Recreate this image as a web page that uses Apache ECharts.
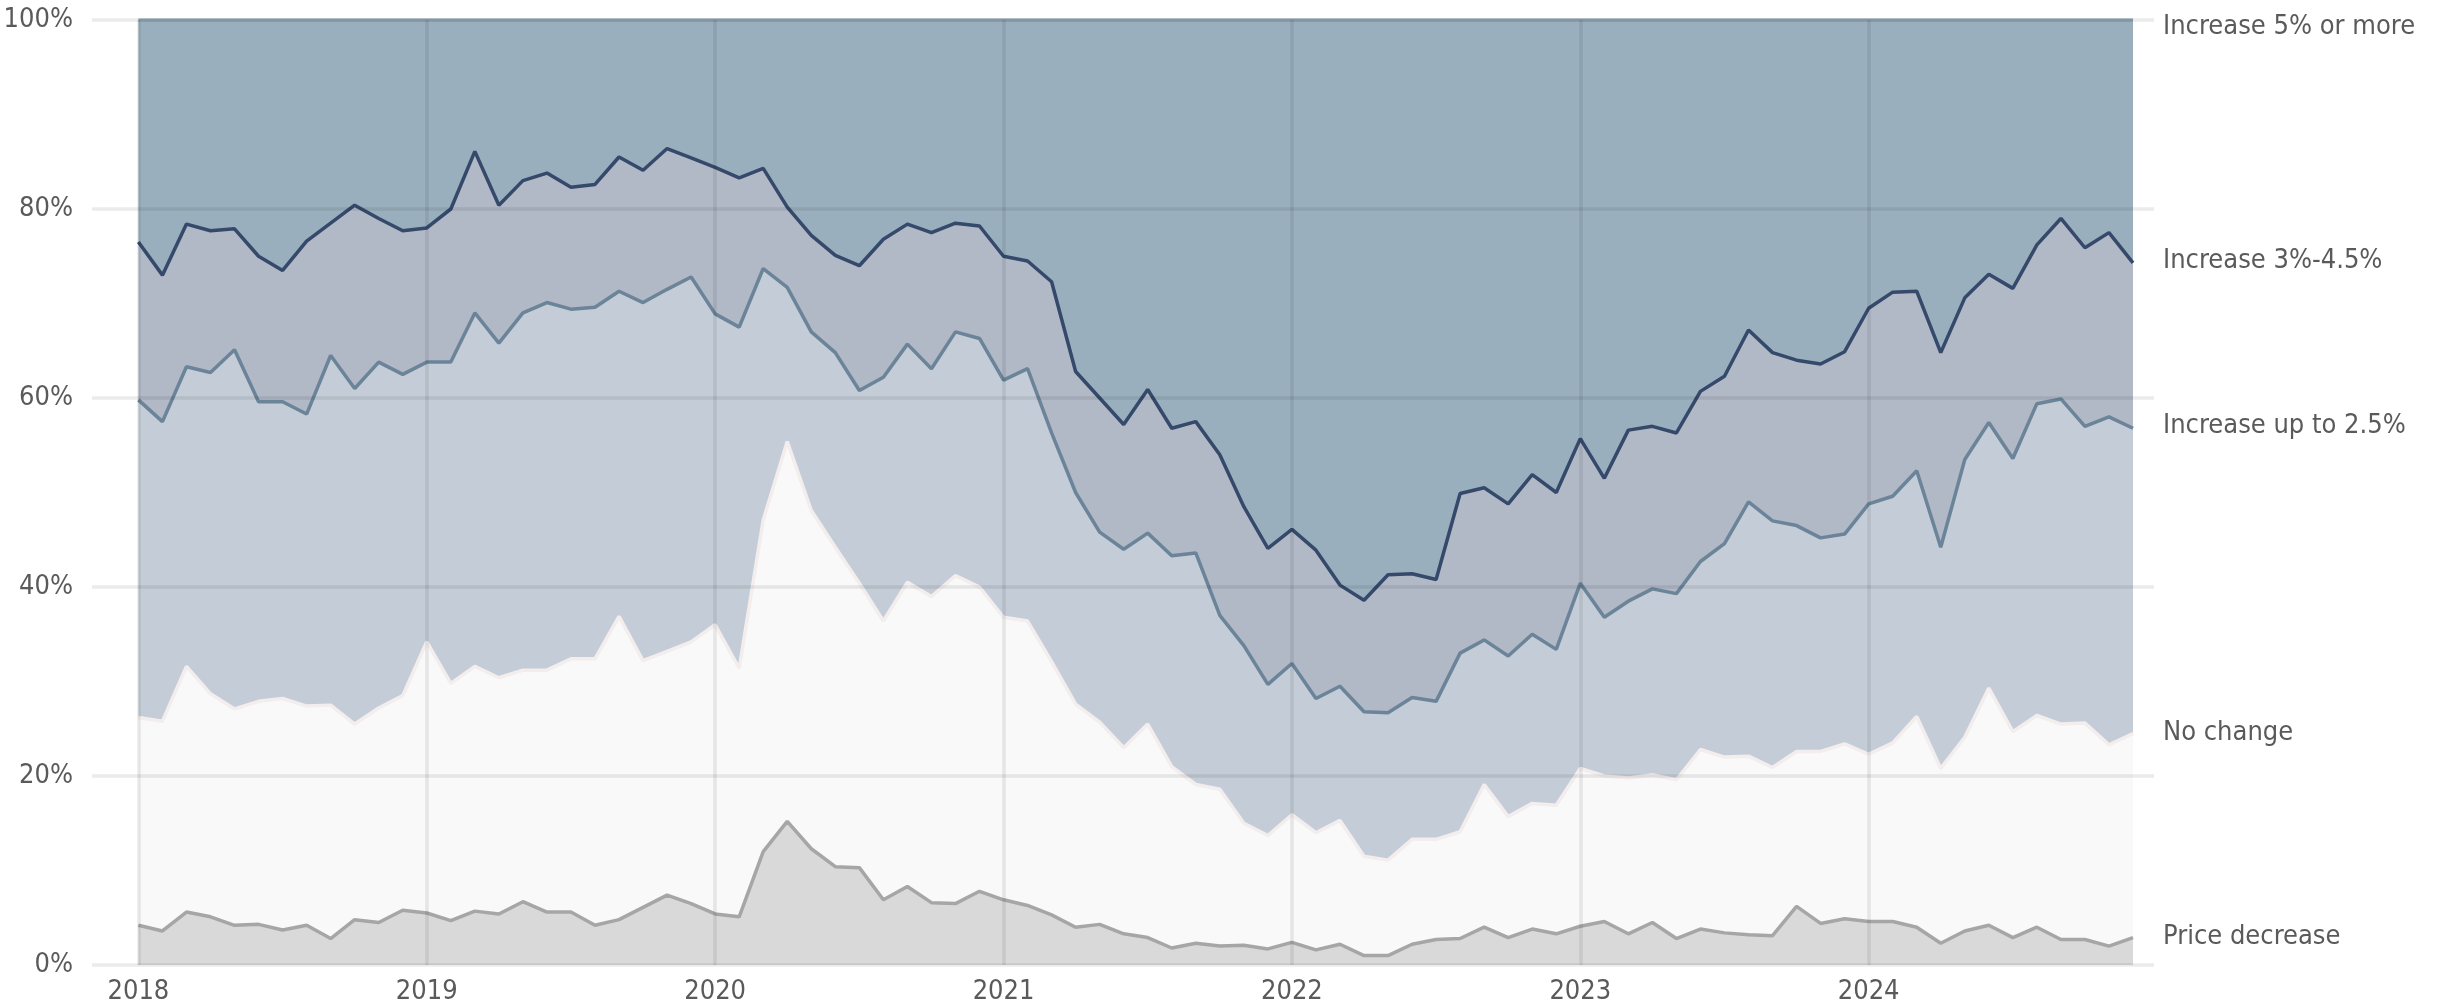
<!DOCTYPE html>
<html>
<head>
<meta charset="utf-8">
<style>
  html, body { margin: 0; padding: 0; background: #ffffff; }
  #chart { width: 2455px; height: 1006px; }
</style>
<script src="https://cdn.jsdelivr.net/npm/echarts@6/dist/echarts.min.js"></script>
</head>
<body>
<div id="chart"></div>
<script>
// ---- data (monthly shares, %, Jan 2018 – Dec 2024) ----
const years = ['2018', '2019', '2020', '2021', '2022', '2023', '2024'];
const yTicks = [0, 20, 40, 60, 80, 100];
const seriesNames = ['Price decrease', 'No change', 'Increase up to 2.5%', 'Increase 3%-4.5%', 'Increase 5% or more'];

const priceDecrease = [
  4.2,3.6,5.6,5.1,4.2,4.3,3.7,4.2,2.8,4.8,4.5,5.8,
  5.5,4.7,5.7,5.4,6.7,5.6,5.6,4.2,4.8,6.1,7.4,6.5,
  5.4,5.1,12.0,15.2,12.3,10.4,10.3,6.9,8.3,6.6,6.5,7.8,
  6.9,6.3,5.3,4.0,4.3,3.3,2.9,1.8,2.3,2.0,2.1,1.7,
  2.4,1.6,2.2,1.0,1.0,2.2,2.7,2.8,4.0,2.9,3.8,3.3,
  4.1,4.6,3.3,4.5,2.8,3.8,3.4,3.2,3.1,6.2,4.4,4.9,
  4.6,4.6,4.0,2.3,3.6,4.2,2.9,4.0,2.7,2.7,2.0,2.9
];
const noChange = [
  22.0,22.2,26.0,23.6,22.9,23.6,24.5,23.2,24.7,20.7,22.7,22.7,
  28.7,25.1,25.9,25.0,24.5,25.6,26.8,28.2,32.1,26.1,25.8,27.7,
  30.6,26.3,35.1,40.2,35.8,33.8,30.1,29.5,32.2,32.4,34.7,32.2,
  29.9,30.1,26.8,23.6,21.4,19.7,22.6,19.2,16.8,16.6,12.9,12.0,
  13.5,12.4,13.1,10.5,10.1,11.1,10.6,11.3,15.1,12.8,13.3,13.6,
  16.7,15.4,16.5,15.6,16.8,19.0,18.6,18.9,17.8,16.4,18.2,18.5,
  17.7,18.9,22.3,18.5,20.5,25.1,21.8,22.4,22.8,22.9,21.3,21.6
];
const increaseUpTo25 = [
  33.6,31.7,31.7,34.0,38.0,31.7,31.4,30.9,37.0,35.5,36.6,34.0,
  29.6,34.0,37.4,35.4,37.8,38.9,37.0,37.2,34.4,37.9,38.3,38.6,
  32.9,36.1,26.6,16.3,18.9,20.6,20.4,25.8,25.2,24.1,25.8,26.3,
  25.1,26.7,24.2,22.4,20.1,21.0,20.2,22.3,24.5,18.4,18.8,16.0,
  16.0,14.2,14.2,15.3,15.6,15.0,14.6,18.9,15.3,17.0,17.9,16.5,
  19.6,16.8,18.7,19.7,19.7,19.9,22.6,26.9,26.1,23.9,22.6,22.2,
  26.5,26.1,26.0,23.4,29.4,28.1,28.9,33.0,34.4,31.4,34.7,32.3
];
const increase3to45 = [
  16.7,15.5,15.1,15.0,12.8,15.4,13.9,18.3,14.0,19.4,15.2,15.2,
  14.2,16.2,17.1,14.6,14.0,13.7,12.9,13.0,14.2,14.0,14.9,12.6,
  15.5,15.8,10.6,8.5,10.2,10.3,13.2,14.6,12.7,14.4,11.5,11.9,
  13.1,11.4,16.0,12.8,14.2,13.2,15.2,13.5,13.9,17.0,14.7,14.4,
  14.2,15.7,10.7,11.8,14.6,13.1,12.9,16.9,16.1,16.1,16.9,16.6,
  15.3,14.7,18.1,17.2,17.0,18.0,17.7,18.2,17.8,17.5,18.4,19.3,
  20.7,21.6,19.0,20.6,17.1,15.7,18.0,16.8,19.1,18.9,19.5,17.5
];
const increase5plus = [
  23.5,27.0,21.6,22.3,22.1,25.0,26.5,23.4,21.5,19.6,21.0,22.3,
  22.0,20.0,13.9,19.6,17.0,16.2,17.7,17.4,14.5,15.9,13.6,14.6,
  15.6,16.7,15.7,19.8,22.8,24.9,26.0,23.2,21.6,22.5,21.5,21.8,
  25.0,25.5,27.7,37.2,40.0,42.8,39.1,43.2,42.5,46.0,51.5,55.9,
  53.9,56.1,59.8,61.4,58.7,58.6,59.2,50.1,49.5,51.2,48.1,50.0,
  44.3,48.5,43.4,43.0,43.7,39.3,37.7,32.8,35.2,36.0,36.4,35.1,
  30.5,28.8,28.7,35.2,29.4,26.9,28.4,23.8,21.0,24.1,22.5,25.7
];

// month categories built from the year list
const months = [];
years.forEach(y => { for (let m = 1; m <= 12; m++) months.push(y + '-' + String(m).padStart(2, '0')); });

// ---- styling ----
const FONT = "'DejaVu Sans Condensed', 'DejaVu Sans', sans-serif";
const TEXT = '#5a5a5a';
const GRID_LINE = 'rgba(0,0,0,0.08)';
const fills = ['#d9d9d9', '#f9f9f9', '#c4cdd7', '#b1b8c6', '#9aafbd'];
const strokes = ['#a6a6a6', '#f3eded', '#6b8499', '#35496a', '#8ea3b2'];
const labelOffsets = [[0, -1], [0, 0], [0, -2], [0, -2], [0, 7]];
const values = [priceDecrease, noChange, increaseUpTo25, increase3to45, increase5plus];

const chart = echarts.init(document.getElementById('chart'), null, { renderer: 'canvas' });

const option = {
  animation: false,
  backgroundColor: '#ffffff',
  grid: [
    { left: 92, width: 2062, top: 20, height: 945 },
    { left: 138.4, right: 322, top: 20, height: 945 }
  ],
  xAxis: [
    { type: 'value', gridIndex: 0, min: 0, max: 1, show: false },
    {
      type: 'category', gridIndex: 1, data: months, boundaryGap: false, z: 20,
      axisLine: { show: false }, axisTick: { show: false },
      axisLabel: {
        interval: (i) => i % 12 === 0,
        formatter: (v) => v.slice(0, 4),
        color: TEXT, fontSize: 27, fontFamily: FONT, margin: 13
      },
      splitLine: { show: true, interval: (i) => i % 12 === 0, lineStyle: { color: GRID_LINE, width: 3.5 } }
    }
  ],
  yAxis: [
    {
      type: 'value', gridIndex: 0, min: yTicks[0], max: yTicks[yTicks.length - 1], interval: 20, z: 20,
      axisLine: { show: false }, axisTick: { show: false },
      axisLabel: { formatter: '{value}%', color: TEXT, fontSize: 27, fontFamily: FONT, margin: 19 },
      splitLine: { show: true, lineStyle: { color: GRID_LINE, width: 3.5 } }
    },
    { type: 'value', gridIndex: 1, min: 0, max: 100, show: false, splitLine: { show: false } }
  ],
  series: seriesNames.map((name, k) => ({
    name: name,
    type: 'line',
    xAxisIndex: 1,
    yAxisIndex: 1,
    stack: 'share',
    data: values[k],
    symbol: 'none',
    showSymbol: false,
    smooth: false,
    lineStyle: { color: strokes[k], width: 3.5 },
    areaStyle: { color: fills[k], opacity: 1 },
    itemStyle: { color: strokes[k] },
    z: 10 - k,
    endLabel: {
      show: true,
      formatter: name,
      color: TEXT,
      fontSize: 27,
      fontFamily: FONT,
      distance: 30,
      offset: labelOffsets[k]
    }
  }))
};

chart.setOption(option);
</script>
</body>
</html>
